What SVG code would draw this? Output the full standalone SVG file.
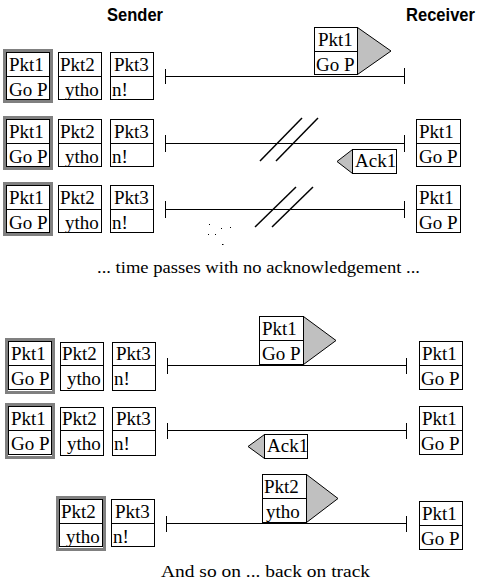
<svg xmlns="http://www.w3.org/2000/svg" width="480" height="585" viewBox="0 0 480 585">
<style>
.b{fill:#fff;stroke:#000;stroke-width:1}
.g{fill:none;stroke:#808080;stroke-width:3}
.d{stroke:#000;stroke-width:1}
.tri{fill:#c0c0c0;stroke:#000;stroke-width:1}
.t{font-size:19px;fill:#000}
.m{font-size:16.5px;fill:#000}
.h{font-family:'Liberation Sans',Arial,sans-serif;font-size:18px;font-weight:bold;fill:#000}
.ln{stroke:#000;stroke-width:1;fill:none}
.sl{stroke:#000;stroke-width:1.5;fill:none}
</style>
<rect width="480" height="585" fill="#fff"/>
<g id="headers">
<text class="h" x="107" y="21" textLength="56" lengthAdjust="spacingAndGlyphs">Sender</text>
<text class="h" x="406" y="21" textLength="69" lengthAdjust="spacingAndGlyphs">Receiver</text>
</g>
<g id="connectors">
<line class="ln" x1="165.5" y1="76.5" x2="404.5" y2="76.5"/>
<line class="ln" x1="165.5" y1="69" x2="165.5" y2="84"/>
<line class="ln" x1="404.5" y1="68" x2="404.5" y2="84"/>
<line class="ln" x1="165.5" y1="143.5" x2="404.5" y2="143.5"/>
<line class="ln" x1="165.5" y1="135" x2="165.5" y2="152"/>
<line class="ln" x1="404.5" y1="135" x2="404.5" y2="152"/>
<line class="sl" x1="260" y1="161" x2="302" y2="118"/>
<line class="sl" x1="276" y1="161" x2="318" y2="118"/>
<line class="ln" x1="165.5" y1="209.5" x2="404.5" y2="209.5"/>
<line class="ln" x1="165.5" y1="201" x2="165.5" y2="218"/>
<line class="ln" x1="404.5" y1="201" x2="404.5" y2="218"/>
<line class="sl" x1="255" y1="227" x2="296" y2="187"/>
<line class="sl" x1="272" y1="227" x2="313" y2="187"/>
<line class="ln" x1="167.5" y1="365.5" x2="406.5" y2="365.5"/>
<line class="ln" x1="167.5" y1="358" x2="167.5" y2="374"/>
<line class="ln" x1="406.5" y1="358" x2="406.5" y2="374"/>
<line class="ln" x1="167.5" y1="430.5" x2="406.5" y2="430.5"/>
<line class="ln" x1="167.5" y1="423" x2="167.5" y2="439"/>
<line class="ln" x1="406.5" y1="423" x2="406.5" y2="439"/>
<line class="ln" x1="166.5" y1="523.5" x2="406.5" y2="523.5"/>
<line class="ln" x1="166.5" y1="516" x2="166.5" y2="532"/>
<line class="ln" x1="406.5" y1="516" x2="406.5" y2="532"/>
</g>
<g id="dots" fill="#000">
<rect x="209" y="224" width="1" height="1"/>
<rect x="221" y="228" width="1" height="1"/>
<rect x="230" y="227" width="1" height="1"/>
<rect x="208" y="234" width="1" height="1"/>
<rect x="215" y="234" width="1" height="1"/>
<rect x="222" y="244" width="1.5" height="1"/>
</g>
<g id="nodes" font-family="Liberation Serif, serif">
<g id="r1-s-pkt1">
<rect class="g" x="4.5" y="50.5" width="47" height="51"/>
<rect class="b" x="6.5" y="52.5" width="43" height="47"/>
<line class="d" x1="6.5" y1="76.5" x2="49.5" y2="76.5"/>
<text class="t" x="9" y="71">Pkt1</text><text class="t" x="9" y="96">Go P</text>
</g>
<g id="r1-s-pkt2">
<rect class="b" x="58.5" y="52.5" width="43" height="47"/>
<line class="d" x1="58.5" y1="76.5" x2="101.5" y2="76.5"/>
<text class="t" x="60" y="71">Pkt2</text><text class="t" x="65" y="96">ytho</text>
</g>
<g id="r1-s-pkt3">
<rect class="b" x="110.5" y="52.5" width="43" height="47"/>
<line class="d" x1="110.5" y1="76.5" x2="153.5" y2="76.5"/>
<text class="t" x="114" y="71">Pkt3</text><text class="t" x="112" y="96">n!</text>
</g>
<g id="r1-moving-pkt1">
<polygon class="tri" points="357.5,27.5 391,51 357.5,74.5"/>
<rect class="b" x="314.5" y="27.5" width="43" height="47"/>
<line class="d" x1="314.5" y1="51.5" x2="357.5" y2="51.5"/>
<text class="t" x="318" y="46">Pkt1</text><text class="t" x="316" y="71">Go P</text>
</g>

<g id="r2-s-pkt1">
<rect class="g" x="4.5" y="117.5" width="47" height="51"/>
<rect class="b" x="6.5" y="119.5" width="43" height="47"/>
<line class="d" x1="6.5" y1="143.5" x2="49.5" y2="143.5"/>
<text class="t" x="9" y="138">Pkt1</text><text class="t" x="9" y="163">Go P</text>
</g>
<g id="r2-s-pkt2">
<rect class="b" x="58.5" y="119.5" width="43" height="47"/>
<line class="d" x1="58.5" y1="143.5" x2="101.5" y2="143.5"/>
<text class="t" x="60" y="138">Pkt2</text><text class="t" x="65" y="163">ytho</text>
</g>
<g id="r2-s-pkt3">
<rect class="b" x="110.5" y="119.5" width="43" height="47"/>
<line class="d" x1="110.5" y1="143.5" x2="153.5" y2="143.5"/>
<text class="t" x="114" y="138">Pkt3</text><text class="t" x="112" y="163">n!</text>
</g>
<g id="r2-r-pkt1">
<rect class="b" x="416.5" y="119.5" width="44" height="47"/>
<line class="d" x1="416.5" y1="143.5" x2="460.5" y2="143.5"/>
<text class="t" x="419" y="138">Pkt1</text><text class="t" x="419" y="163">Go P</text>
</g>
<g id="r2-ack1">
<polygon class="tri" points="352.5,149.5 337,161.5 352.5,173.5"/>
<rect class="b" x="352.5" y="149.5" width="44" height="24"/>
<text class="t" x="355" y="167">Ack1</text>
</g>

<g id="r3-s-pkt1">
<rect class="g" x="4.5" y="183.5" width="47" height="51"/>
<rect class="b" x="6.5" y="185.5" width="43" height="47"/>
<line class="d" x1="6.5" y1="209.5" x2="49.5" y2="209.5"/>
<text class="t" x="9" y="204">Pkt1</text><text class="t" x="9" y="229">Go P</text>
</g>
<g id="r3-s-pkt2">
<rect class="b" x="58.5" y="185.5" width="43" height="47"/>
<line class="d" x1="58.5" y1="209.5" x2="101.5" y2="209.5"/>
<text class="t" x="60" y="204">Pkt2</text><text class="t" x="65" y="229">ytho</text>
</g>
<g id="r3-s-pkt3">
<rect class="b" x="110.5" y="185.5" width="43" height="47"/>
<line class="d" x1="110.5" y1="209.5" x2="153.5" y2="209.5"/>
<text class="t" x="114" y="204">Pkt3</text><text class="t" x="112" y="229">n!</text>
</g>
<g id="r3-r-pkt1">
<rect class="b" x="416.5" y="185.5" width="44" height="47"/>
<line class="d" x1="416.5" y1="209.5" x2="460.5" y2="209.5"/>
<text class="t" x="419" y="204">Pkt1</text><text class="t" x="419" y="229">Go P</text>
</g>

<g id="msg-time">
<text class="m" x="97" y="273" textLength="323" lengthAdjust="spacingAndGlyphs">... time passes with no acknowledgement ...</text>
</g>

<g id="r4-s-pkt1">
<rect class="g" x="6.5" y="339.5" width="47" height="53"/>
<rect class="b" x="8.5" y="341.5" width="43" height="48"/>
<line class="d" x1="8.5" y1="365.5" x2="51.5" y2="365.5"/>
<text class="t" x="11" y="360">Pkt1</text><text class="t" x="11" y="385">Go P</text>
</g>
<g id="r4-s-pkt2">
<rect class="b" x="60.5" y="342.5" width="43" height="48"/>
<line class="d" x1="60.5" y1="365.5" x2="103.5" y2="365.5"/>
<text class="t" x="62" y="360">Pkt2</text><text class="t" x="67" y="385">ytho</text>
</g>
<g id="r4-s-pkt3">
<rect class="b" x="112.5" y="342.5" width="43" height="48"/>
<line class="d" x1="112.5" y1="365.5" x2="155.5" y2="365.5"/>
<text class="t" x="116" y="360">Pkt3</text><text class="t" x="114" y="385">n!</text>
</g>
<g id="r4-moving-pkt1">
<polygon class="tri" points="303.5,316.5 336,340.5 303.5,364.5"/>
<rect class="b" x="259.5" y="316.5" width="44" height="48"/>
<line class="d" x1="259.5" y1="340.5" x2="303.5" y2="340.5"/>
<text class="t" x="262" y="335">Pkt1</text><text class="t" x="262" y="360">Go P</text>
</g>
<g id="r4-r-pkt1">
<rect class="b" x="419.5" y="341.5" width="43" height="48"/>
<line class="d" x1="419.5" y1="365.5" x2="462.5" y2="365.5"/>
<text class="t" x="422" y="360">Pkt1</text><text class="t" x="421" y="385">Go P</text>
</g>

<g id="r5-s-pkt1">
<rect class="g" x="6.5" y="404.5" width="47" height="53"/>
<rect class="b" x="8.5" y="406.5" width="43" height="48"/>
<line class="d" x1="8.5" y1="430.5" x2="51.5" y2="430.5"/>
<text class="t" x="11" y="425">Pkt1</text><text class="t" x="11" y="450">Go P</text>
</g>
<g id="r5-s-pkt2">
<rect class="b" x="60.5" y="407.5" width="43" height="48"/>
<line class="d" x1="60.5" y1="430.5" x2="103.5" y2="430.5"/>
<text class="t" x="62" y="425">Pkt2</text><text class="t" x="67" y="450">ytho</text>
</g>
<g id="r5-s-pkt3">
<rect class="b" x="112.5" y="407.5" width="43" height="48"/>
<line class="d" x1="112.5" y1="430.5" x2="155.5" y2="430.5"/>
<text class="t" x="116" y="425">Pkt3</text><text class="t" x="114" y="450">n!</text>
</g>
<g id="r5-r-pkt1">
<rect class="b" x="419.5" y="406.5" width="43" height="48"/>
<line class="d" x1="419.5" y1="430.5" x2="462.5" y2="430.5"/>
<text class="t" x="422" y="425">Pkt1</text><text class="t" x="421" y="450">Go P</text>
</g>
<g id="r5-ack1">
<polygon class="tri" points="264.5,434.5 248,446.5 264.5,458.5"/>
<rect class="b" x="264.5" y="434.5" width="43" height="24"/>
<text class="t" x="267" y="452">Ack1</text>
</g>

<g id="r6-s-pkt2">
<rect class="g" x="57.5" y="497.5" width="47" height="52"/>
<rect class="b" x="59.5" y="499.5" width="43" height="47"/>
<line class="d" x1="59.5" y1="523.5" x2="102.5" y2="523.5"/>
<text class="t" x="61" y="518">Pkt2</text><text class="t" x="66" y="543">ytho</text>
</g>
<g id="r6-s-pkt3">
<rect class="b" x="111.5" y="499.5" width="43" height="47"/>
<line class="d" x1="111.5" y1="523.5" x2="154.5" y2="523.5"/>
<text class="t" x="115" y="518">Pkt3</text><text class="t" x="113" y="543">n!</text>
</g>
<g id="r6-moving-pkt2">
<polygon class="tri" points="306.5,474.5 338,498.5 306.5,522.5"/>
<rect class="b" x="262.5" y="474.5" width="44" height="48"/>
<line class="d" x1="262.5" y1="498.5" x2="306.5" y2="498.5"/>
<text class="t" x="264" y="493">Pkt2</text><text class="t" x="266" y="518">ytho</text>
</g>
<g id="r6-r-pkt1">
<rect class="b" x="419.5" y="501.5" width="43" height="48"/>
<line class="d" x1="419.5" y1="525.5" x2="462.5" y2="525.5"/>
<text class="t" x="422" y="520">Pkt1</text><text class="t" x="421" y="545">Go P</text>
</g>

<g id="msg-end">
<text class="m" x="161" y="577" textLength="209" lengthAdjust="spacingAndGlyphs">And so on  ... back on track</text>
</g>
</g>
</svg>
